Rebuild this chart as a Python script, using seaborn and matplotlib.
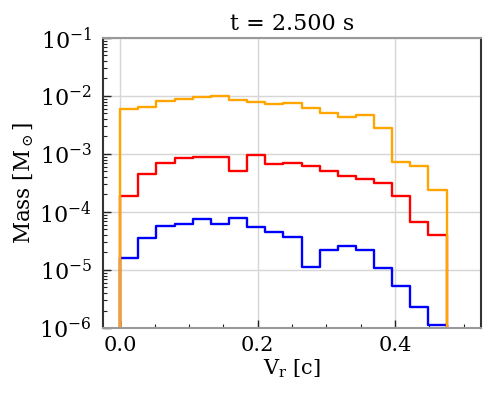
import numpy as np
import pandas as pd
import matplotlib
matplotlib.use("Agg")
import matplotlib.pyplot as plt
from matplotlib.ticker import MultipleLocator, LogLocator, NullFormatter
import seaborn as sns

# ---- data ----
v_min, v_max, n_bins = 0.0, 0.475, 18
orange_mass = [5.87e-3, 6.45e-3, 8.3e-3, 8.87e-3, 9.48e-3, 1.01e-2, 8.4e-3, 7.87e-3, 7.36e-3,
               7.47e-3, 6.2e-3, 5.15e-3, 4.38e-3, 4.69e-3, 2.79e-3, 7.4e-4, 6.14e-4, 2.36e-4]
red_mass = [1.92e-4, 4.57e-4, 7.08e-4, 8.41e-4, 8.75e-4, 8.75e-4, 5.01e-4, 9.6e-4, 6.62e-4,
            6.9e-4, 6.19e-4, 5.15e-4, 4.22e-4, 3.74e-4, 3.1e-4, 1.9e-4, 6.65e-5, 4.07e-5]
blue_mass = [1.62e-5, 3.6e-5, 5.65e-5, 6.2e-5, 7.46e-5, 6.12e-5, 7.87e-5, 5.43e-5, 4.51e-5,
             3.64e-5, 1.12e-5, 2.23e-5, 2.55e-5, 2.17e-5, 1.1e-5, 5.37e-6, 2.26e-6, 1.12e-6]
series_colors = ["blue", "red", "orange"]
title_text = "t = 2.500 s"

width = (v_max - v_min) / n_bins
centers = v_min + width * (np.arange(n_bins) + 0.5)
# one empty bin on each side so the step outline drops to the axis at both ends
edges = list(np.linspace(v_min - width, v_max + width, n_bins + 3))

sns.set_theme(style="white")
plt.rcParams["font.family"] = ["DejaVu Serif"]
plt.rcParams["mathtext.fontset"] = "dejavuserif"
plt.rcParams["text.color"] = "black"
plt.rcParams["axes.labelcolor"] = "black"
plt.rcParams["xtick.color"] = "black"
plt.rcParams["ytick.color"] = "black"

fig = plt.figure(figsize=(4.98, 3.99), dpi=100)
ax = fig.add_axes([0.2068, 0.178, 0.759, 0.727])

for vals, color in zip([blue_mass, red_mass, orange_mass], series_colors):
    df = pd.DataFrame({"v": centers, "mass": vals})
    sns.histplot(data=df, x="v", weights="mass", bins=edges, element="step", fill=False,
                 color=color, linewidth=1.7, ax=ax)

ax.set_yscale("log")
ax.set_ylim(1e-6, 1e-1)
ax.set_xlim(-0.025, 0.525)

ax.xaxis.set_major_locator(MultipleLocator(0.2))
ax.xaxis.set_minor_locator(MultipleLocator(0.05))
ax.yaxis.set_major_locator(LogLocator(base=10, numticks=10))
ax.yaxis.set_minor_locator(LogLocator(base=10, subs=np.arange(2, 10), numticks=20))
ax.yaxis.set_minor_formatter(NullFormatter())

ax.tick_params(which="both", direction="in", left=True, bottom=True, top=False, right=False,
               color="#222222", labelcolor="black")
ax.tick_params(which="major", length=6, width=1.0)
ax.tick_params(which="minor", length=3, width=0.8)
ax.tick_params(axis="x", which="major", labelsize=15, pad=6)
ax.tick_params(axis="y", which="major", labelsize=16, pad=8)

ax.grid(True, which="major", color="#d6d6d6", linewidth=1.0)
ax.set_axisbelow(True)

for side, col in [("left", "#333333"), ("right", "#333333"), ("top", "#999999"), ("bottom", "#999999")]:
    ax.spines[side].set_visible(True)
    ax.spines[side].set_color(col)
    ax.spines[side].set_linewidth(1.5)

ax.set_xlabel(r"V$_\mathrm{r}$ [c]", fontsize=15, labelpad=2)
ax.set_ylabel(r"Mass [M$_\odot$]", fontsize=15.5, labelpad=2)
ax.set_title(title_text, fontsize=16, pad=6)

fig.savefig("out.png", dpi=100)
